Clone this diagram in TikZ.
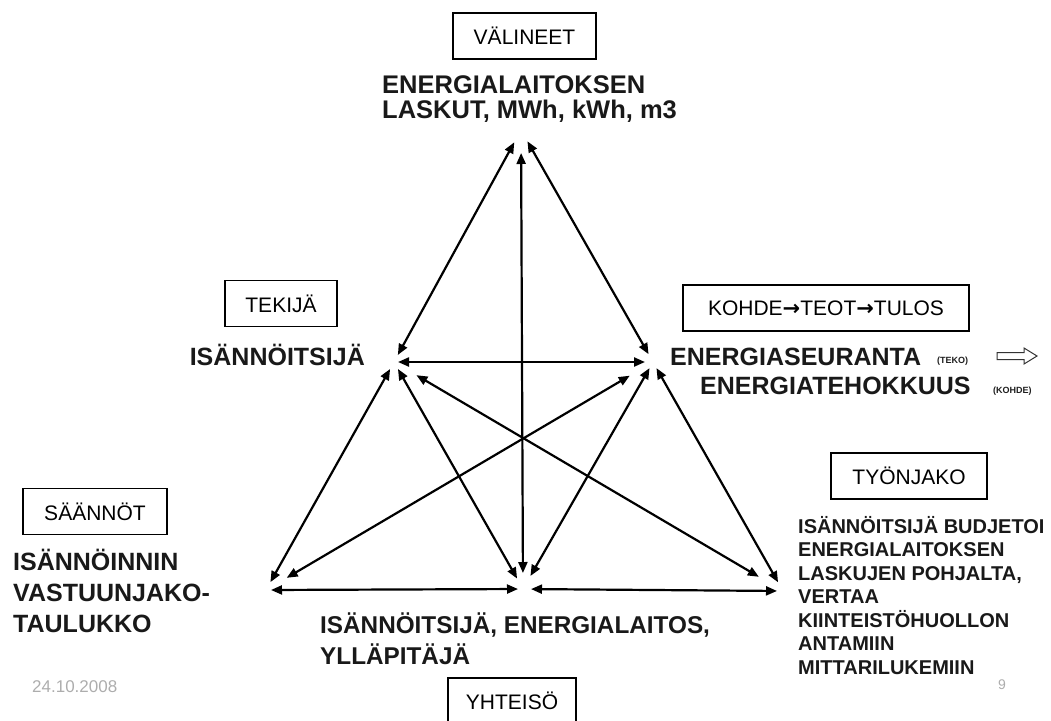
\documentclass[tikz,border=0pt]{standalone}
\usepackage{fontspec}
\setmainfont{Liberation Sans}
\newfontfamily\symfont{DejaVu Sans}
\usetikzlibrary{arrows.meta}
\begin{document}
\begin{tikzpicture}[x=1pt,y=-1pt,
  conn/.style={line width=2.2pt,{Triangle[length=11pt,width=9pt]}-{Triangle[length=11pt,width=9pt]}},
  boxst/.style={draw, line width=1.1pt, inner sep=0pt, minimum height=46pt, font=\fontsize{21}{21}\selectfont},
  biglab/.style={anchor=base west, inner sep=0pt, text=black!90, font=\fontsize{25}{25}\selectfont\bfseries},
  midlab/.style={anchor=base west, inner sep=0pt, text=black!90, font=\fontsize{20}{20}\selectfont\bfseries},
  taglab/.style={anchor=base west, inner sep=0pt, text=black!88, font=\fontsize{9}{9}\selectfont\bfseries},
  foot/.style={anchor=base west, inner sep=0pt, text=black!32}
]
\useasboundingbox (0,0) rectangle (1051,720);
\clip (0,0) rectangle (1051,720);

% vertices
\coordinate (T) at (521,130);
\coordinate (L) at (394,362);
\coordinate (R) at (653,362);
\coordinate (BL) at (266,590);
\coordinate (BM) at (523,589);
\coordinate (BR) at (783,591);

% connectors
\draw[conn, shorten <=14pt, shorten >=8pt] (T) -- (L);
\draw[conn, shorten <=13pt, shorten >=9pt] (T) -- (R);
\draw[conn, shorten <=23pt, shorten >=16pt] (T) -- (BM);
\draw[conn, shorten <=4pt, shorten >=8pt] (L) -- (R);
\draw[conn, shorten <=8pt, shorten >=9pt] (L) -- (BL);
\draw[conn, shorten <=8pt, shorten >=12pt] (L) -- (BM);
\draw[conn, shorten <=26pt, shorten >=28pt] (L) -- (BR);
\draw[conn, shorten <=27pt, shorten >=24pt] (R) -- (BL);
\draw[conn, shorten <=7pt, shorten >=15pt] (R) -- (BM);
\draw[conn, shorten <=7pt, shorten >=10pt] (R) -- (BR);
\draw[conn, shorten <=5pt, shorten >=5pt] (BL) -- (BM);
\draw[conn, shorten <=8pt, shorten >=6pt] (BM) -- (BR);

% boxes
\node[boxst, minimum width=143pt] (valineet) at (524.5,36) {VÄLINEET};
\node[boxst, minimum width=112pt] (tekija) at (281,303.5) {TEKIJÄ};
\node[boxst, minimum width=286pt] (kohde) at (826,308) {KOHDE{\symfont\bfseries →}TEOT{\symfont\bfseries →}TULOS};
\node[boxst, minimum width=156pt] (tyonjako) at (909,476) {TYÖNJAKO};
\node[boxst, minimum width=144pt] (saannot) at (95,511.5) {SÄÄNNÖT};
\node[boxst, minimum width=128pt] (yhteiso) at (512,701) {YHTEISÖ};

% top label
\node[biglab, font=\fontsize{25.5}{25.5}\selectfont\bfseries] (top1) at (382,93) {ENERGIALAITOKSEN};
\node[biglab, font=\fontsize{25.5}{25.5}\selectfont\bfseries] (top2) at (382,118) {LASKUT, MWh, kWh, m3};

% left-middle label
\node[biglab, anchor=base east] (isan) at (365,365) {ISÄNNÖITSIJÄ};

% right-middle label
\node[biglab] (es1) at (670,365) {ENERGIASEURANTA};
\node[taglab] (teko) at (937,363) {(TEKO)};
\node[biglab] (es2) at (700,394) {ENERGIATEHOKKUUS};
\node[taglab] (kohdetag) at (993,393) {(KOHDE)};
\draw[line width=1pt, black!80] (997,352.5) -- (1024,352.5) -- (1024,348) -- (1037,356) -- (1024,364) -- (1024,359.5) -- (997,359.5) -- cycle;

% left label
\node[biglab] (sl1) at (13,570) {ISÄNNÖINNIN};
\node[biglab] (sl2) at (13,601) {VASTUUNJAKO-};
\node[biglab] (sl3) at (13,632) {TAULUKKO};

% bottom label
\node[biglab, font=\fontsize{24.3}{24.3}\selectfont\bfseries] (bm1) at (320,633) {ISÄNNÖITSIJÄ, ENERGIALAITOS,};
\node[biglab, font=\fontsize{24.3}{24.3}\selectfont\bfseries] (bm2) at (320,664) {YLLÄPITÄJÄ};

% bottom-right label
\node[midlab] (br1) at (798,533) {ISÄNNÖITSIJÄ BUDJETOI};
\node[midlab] (br2) at (798,556.5) {ENERGIALAITOKSEN};
\node[midlab] (br3) at (798,580) {LASKUJEN POHJALTA,};
\node[midlab] (br4) at (798,603.5) {VERTAA};
\node[midlab] (br5) at (798,627) {KIINTEISTÖHUOLLON};
\node[midlab] (br6) at (798,650.5) {ANTAMIIN};
\node[midlab] (br7) at (798,674) {MITTARILUKEMIIN};

% footer
\node[foot, font=\fontsize{17}{17}\selectfont] (date) at (32,692) {24.10.2008};
\node[foot, font=\fontsize{14}{14}\selectfont] (page) at (998,689) {9};
\end{tikzpicture}
\end{document}
